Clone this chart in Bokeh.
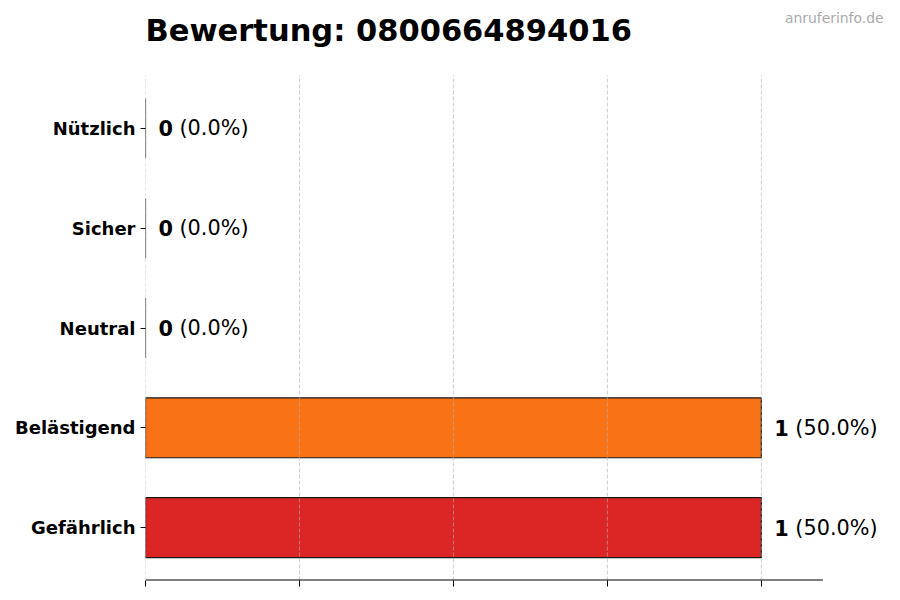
from bokeh.plotting import figure
from bokeh.models import ColumnDataSource, Range1d, FixedTicker, LabelSet, Label
from bokeh.core.properties import value
from bokeh.embed import file_html
from bokeh.resources import INLINE

# Daten
kategorien = ["Gefährlich", "Belästigend", "Neutral", "Sicher", "Nützlich"]
anzahl = [1, 1, 0, 0, 0]
prozent = [50.0, 50.0, 0.0, 0.0, 0.0]
farben = ["#DC2626", "#F97316", "#9CA3AF", "#3B82F6", "#22C55E"]
x_ticks = [0, 0.25, 0.5, 0.75, 1.0]
x_achse_ende = 1.1
titel = "Bewertung: 0800664894016"
quelle = "anruferinfo.de"

pos = list(range(len(kategorien)))
y_start, y_end = -0.53, len(kategorien) - 1 + 0.53
# der Rahmen reicht bis oben, damit Titel und Quelle darin Platz haben
kopf_px, achse_px = 75, 505
y_top = y_end + (y_end - y_start) * kopf_px / achse_px

source = ColumnDataSource(dict(
    y=pos,
    right=anzahl,
    farbe=farben,
    count_txt=[str(a) for a in anzahl],
    pct_txt=[f"({p:.1f}%)" for p in prozent],
))

p = figure(width=884, height=600, output_backend="svg", toolbar_location=None,
           x_range=Range1d(0, 1.2), y_range=Range1d(y_start, y_top),
           min_border_left=145, min_border_right=0, min_border_top=0, min_border_bottom=20)
p.outline_line_color = None
p.background_fill_color = "white"
p.border_fill_color = "white"

# Balken
p.hbar(y="y", left=0, right="right", height=0.6, source=source,
       fill_color="farbe", line_color="#1a1a1a", line_width=1.2)

# Gitterlinien (über den Balken, nur im Datenbereich)
p.segment(x0=x_ticks, y0=y_start, x1=x_ticks, y1=y_end,
          line_color="#b0b0b0", line_alpha=0.6, line_dash="4 2", line_width=1)

# Werte neben den Balken
p.add_layout(LabelSet(x="right", y="y", text="count_txt", source=source, x_offset=13,
                      text_font_size="20.8px", text_font_style="bold", text_baseline="middle",
                      text_color="black", text_font=value("DejaVu Sans")))
p.add_layout(LabelSet(x="right", y="y", text="pct_txt", source=source, x_offset=34,
                      text_font_size="20.8px", text_baseline="middle",
                      text_color="black", text_font=value("DejaVu Sans")))

# Achsen
p.yaxis.ticker = FixedTicker(ticks=pos)
p.yaxis.major_label_overrides = {i: k for i, k in enumerate(kategorien)}
p.yaxis.major_label_text_font = "DejaVu Sans"
p.yaxis.major_label_text_font_style = "bold"
p.yaxis.major_label_text_font_size = "18px"
p.yaxis.major_label_text_color = "black"
p.yaxis.axis_line_color = None
p.yaxis.major_tick_out = 5
p.yaxis.major_tick_in = 0
p.yaxis.minor_tick_line_color = None
p.yaxis.major_label_standoff = 5

p.xaxis.ticker = FixedTicker(ticks=x_ticks)
p.xaxis.major_label_overrides = {t: "" for t in x_ticks}
p.xaxis.major_label_standoff = 0
p.xaxis.major_tick_out = 6
p.xaxis.major_tick_in = 0
p.xaxis.minor_tick_line_color = None
p.xaxis.axis_line_color = None
# Achsenlinie nur bis zum Ende des Wertebereichs
p.segment(x0=0, y0=y_start, x1=x_achse_ende, y1=y_start, line_color="black", line_width=2)

p.xgrid.grid_line_color = None
p.ygrid.grid_line_color = None

# Titel und Quelle
p.add_layout(Label(x=0, y=y_top, y_offset=-30, text=titel,
                   text_font="DejaVu Sans", text_font_style="bold", text_font_size="30.5px",
                   text_baseline="middle", text_color="black"))
p.add_layout(Label(x=1.2, y=y_top, x_offset=-1, y_offset=-17, text=quelle,
                   text_font="DejaVu Sans", text_font_size="13.9px", text_align="right",
                   text_baseline="middle", text_color="#aaaaaa"))

open("out.html", "w").write(file_html(p, INLINE))
